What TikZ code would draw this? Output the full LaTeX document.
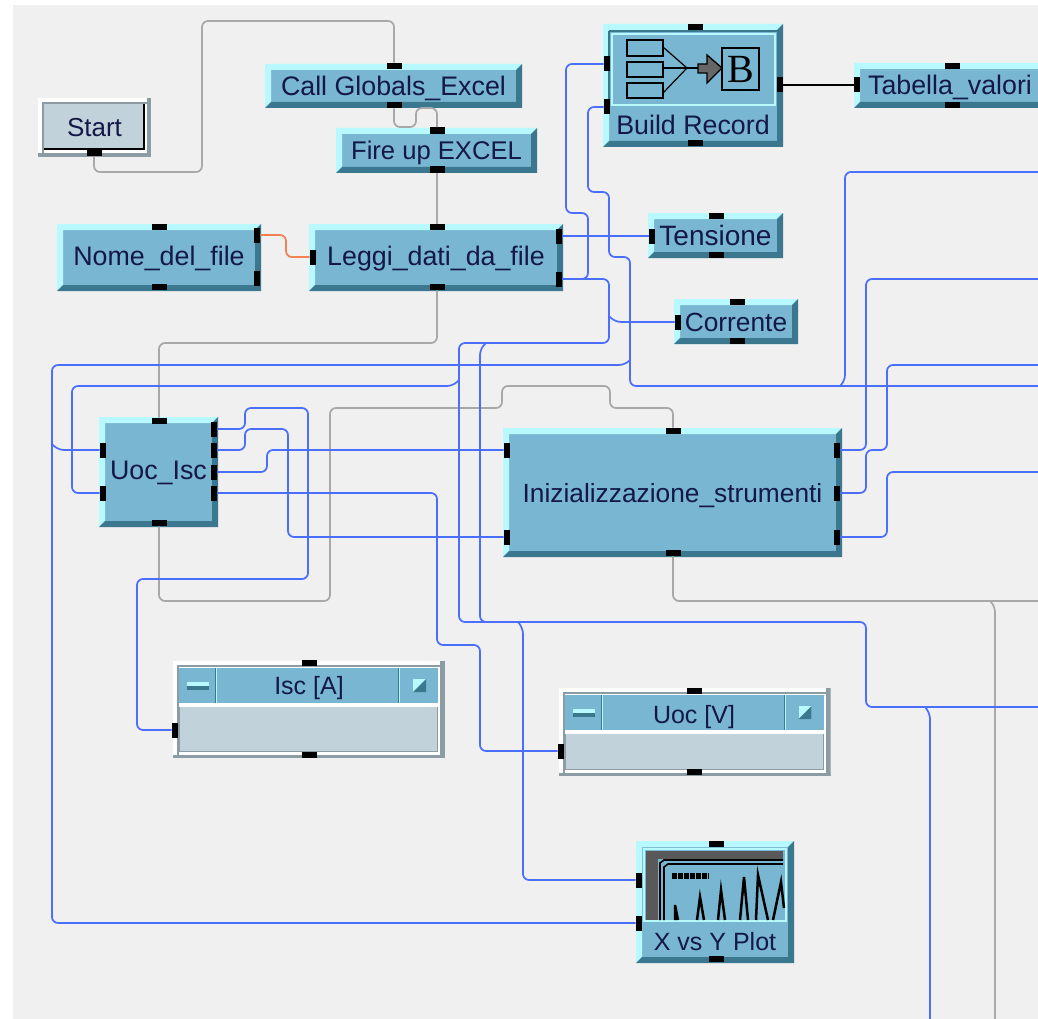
\documentclass[tikz,border=0pt]{standalone}
\usepackage{fontspec}
\setmainfont{Liberation Sans}
\newfontfamily\iconfont{Liberation Serif}
\usepackage{tikz}

\definecolor{panelgrey}{HTML}{F0F0F0}
\definecolor{devface}{HTML}{78B6D2}
\definecolor{devlite}{HTML}{B8F8FF}
\definecolor{devdark}{HTML}{3B788F}
\definecolor{devtext}{HTML}{141848}
\definecolor{bodygrey}{HTML}{C2D2DA}
\definecolor{rimgrey}{HTML}{8C9CA4}
\definecolor{wireblue}{HTML}{4A6EFF}
\definecolor{wiregrey}{HTML}{A8A8A8}
\definecolor{wireorange}{HTML}{F58050}

\begin{document}
\begin{tikzpicture}[
  x=1pt, y=-1pt,
  every node/.style={font=\fontsize{26.8}{30}\selectfont, text=devtext, inner sep=0pt},
  txt/.style={font=\fontsize{#1}{30}\selectfont},
  devlabel/.style={text height=23pt, text depth=4pt},
  lowlabel/.style={text height=22pt, text depth=7pt},
  dev/.style 2 args={devlabel, fill=devface, minimum width=#1pt, minimum height=#2pt,
    path picture={
      \fill[devlite] (path picture bounding box.north west) -- (path picture bounding box.north east)
        -- ([xshift=-6pt,yshift=-6pt]path picture bounding box.north east)
        -- ([xshift=6pt,yshift=-6pt]path picture bounding box.north west)
        -- ([xshift=6pt,yshift=6pt]path picture bounding box.south west)
        -- (path picture bounding box.south west) -- cycle;
      \fill[devdark] (path picture bounding box.south east) -- (path picture bounding box.north east)
        -- ([xshift=-6pt,yshift=-6pt]path picture bounding box.north east)
        -- ([xshift=-6pt,yshift=6pt]path picture bounding box.south east)
        -- ([xshift=6pt,yshift=6pt]path picture bounding box.south west)
        -- (path picture bounding box.south west) -- cycle;
    }},
  btn/.style 2 args={devlabel, fill=bodygrey, minimum width=#1pt, minimum height=#2pt,
    path picture={
      \fill[white] (path picture bounding box.north west) rectangle (path picture bounding box.south east);
      \fill[rimgrey] ([yshift=3.5pt]path picture bounding box.south west) rectangle (path picture bounding box.south east);
      \fill[rimgrey] ([xshift=-4pt]path picture bounding box.north east) rectangle (path picture bounding box.south east);
      \fill[rimgrey] ([xshift=4pt,yshift=-4pt]path picture bounding box.north west) rectangle ([xshift=-4pt,yshift=3.5pt]path picture bounding box.south east);
      \fill[white] ([xshift=6pt,yshift=-6pt]path picture bounding box.north west) rectangle ([xshift=-4pt,yshift=3.5pt]path picture bounding box.south east);
      \fill[bodygrey] ([xshift=6pt,yshift=-6pt]path picture bounding box.north west) rectangle ([xshift=-7pt,yshift=8pt]path picture bounding box.south east);
      \draw[black, line width=1.8pt] ([xshift=-7pt,yshift=-6pt]path picture bounding box.north east)
        -- ([xshift=-7pt,yshift=8pt]path picture bounding box.south east)
        -- ([xshift=6pt,yshift=8pt]path picture bounding box.south west);
    }},
  disp/.style={fill=bodygrey, minimum width=272pt, minimum height=#1pt,
    path picture={
      \fill[white] (path picture bounding box.north west) rectangle (path picture bounding box.south east);
      \fill[rimgrey] ([yshift=3.5pt]path picture bounding box.south west) rectangle (path picture bounding box.south east);
      \fill[rimgrey] ([xshift=-5pt]path picture bounding box.north east) rectangle (path picture bounding box.south east);
      \fill[rimgrey] ([xshift=4pt,yshift=-4pt]path picture bounding box.north west) rectangle ([xshift=-5pt,yshift=3.5pt]path picture bounding box.south east);
      \fill[white] ([xshift=6pt,yshift=-6pt]path picture bounding box.north west) rectangle ([xshift=-5pt,yshift=3.5pt]path picture bounding box.south east);
      \fill[rimgrey] ([xshift=6pt,yshift=-46pt]path picture bounding box.north west) rectangle ([xshift=-7pt,yshift=6pt]path picture bounding box.south east);
      \fill[bodygrey] ([xshift=7pt,yshift=-46pt]path picture bounding box.north west) rectangle ([xshift=-8pt,yshift=7pt]path picture bounding box.south east);
      \fill[devface] ([xshift=6pt,yshift=-7pt]path picture bounding box.north west) rectangle ([xshift=-7pt,yshift=-42pt]path picture bounding box.north east);
      \fill[devdark] ([xshift=42pt,yshift=-7pt]path picture bounding box.north west) rectangle ([xshift=43pt,yshift=-42pt]path picture bounding box.north west);
      \fill[devlite] ([xshift=43pt,yshift=-7pt]path picture bounding box.north west) rectangle ([xshift=44pt,yshift=-42pt]path picture bounding box.north west);
      \fill[devdark] ([xshift=-47pt,yshift=-7pt]path picture bounding box.north east) rectangle ([xshift=-46pt,yshift=-42pt]path picture bounding box.north east);
      \fill[devlite] ([xshift=-46pt,yshift=-7pt]path picture bounding box.north east) rectangle ([xshift=-45pt,yshift=-42pt]path picture bounding box.north east);
      % minimise and maximise buttons
      \fill[devlite] ([xshift=14pt,yshift=-21pt]path picture bounding box.north west) rectangle ([xshift=36pt,yshift=-25pt]path picture bounding box.north west);
      \fill[devdark] ([xshift=14pt,yshift=-25pt]path picture bounding box.north west) rectangle ([xshift=36pt,yshift=-29pt]path picture bounding box.north west);
      \fill[devlite] ([xshift=-32pt,yshift=-18pt]path picture bounding box.north east) rectangle ([xshift=-19pt,yshift=-31pt]path picture bounding box.north east);
      \fill[devdark] ([xshift=-19pt,yshift=-18pt]path picture bounding box.north east) -- ([xshift=-19pt,yshift=-31pt]path picture bounding box.north east) -- ([xshift=-32pt,yshift=-31pt]path picture bounding box.north east) -- cycle;
    }},
  porth/.style={fill=black, minimum width=15pt, minimum height=6.5pt},
  portv/.style={fill=black, minimum width=6.5pt, minimum height=15pt},
  icon/.style={black, line width=1.8pt},
  wb/.style={draw=wireblue, line width=1.7pt, rounded corners=6pt},
  wg/.style={draw=wiregrey, line width=1.7pt, rounded corners=6pt},
  wo/.style={draw=wireorange, line width=1.7pt, rounded corners=6pt}]

\useasboundingbox (0,0) rectangle (1038,1019);
\clip (0,0) rectangle (1038,1019);
\fill[panelgrey] (13,5) rectangle (1038,1019);

%% Objects
\node[btn={113}{59}, txt=26] (start)   at ( 94.5, 127.5) {Start};
\node[dev={257}{44}] (call)    at (393.5,  86)   {Call Globals\_Excel};
\node[dev={201}{45}, txt=25.6] (fire)  at (436.5, 150.5) {Fire up EXCEL};
\node[dev={204}{67}, lowlabel] (nome)  at (159,   257.5) {Nome\_del\_file};
\node[dev={254}{67}, lowlabel] (leggi) at (436,   257.5) {Leggi\_dati\_da\_file};
\node[dev={180}{123}] (build)  at (693,    85.5) {};
\node[dev={192}{45}] (tabella) at (950,    85.5) {Tabella\_valori};
\node[dev={135}{45}, txt=28] (tens)    at (715.5, 235.5) {Tensione};
\node[dev={124}{45}, txt=26.3] (corr)  at (736,   321.5) {Corrente};
\node[dev={119}{110}, lowlabel] (uocisc) at (158.5, 472) {Uoc\_Isc};
\node[dev={339}{129}, txt=26.3] (init) at (672.5, 492.5) {Inizializzazione\_strumenti};
\node[disp=97] (isc) at (309, 709.5) {};
\node[disp=88] (uoc) at (694.5, 732) {};
\node[dev={158}{122}] (plot)   at (715,   902)   {};

%% Labels on the objects that carry a picture or a title bar
\node[devlabel] (buildlabel) at (693, 125) {Build Record};
\node[devlabel, txt=25] (plotlabel)  at (715, 941) {X vs Y Plot};
\node[devlabel, txt=25] (isclabel)   at (309, 685) {Isc [A]};
\node[devlabel, txt=25] (uoclabel)   at (694, 713.5) {Uoc [V]};

%% Record icon
\draw[devlite, line width=1.2pt, fill=devface] (612,34) rectangle (775,105);
\draw[devdark, line width=1.2pt] (609,31) -- (778,31) (609,31) -- (609,105);
\draw[icon] (627,40) rectangle (663,56);
\draw[icon] (627,62) rectangle (663,77);
\draw[icon] (627,83) rectangle (663,98);
\draw[black, line width=1.2pt] (663,47) -- (687,68) -- (663,93);
\draw[icon] (663,68) -- (698,68);
\draw[black, line width=1.4pt, fill=black!60] (698,64) -- (707,64) -- (707,55) -- (722,68) -- (707,83) -- (707,73) -- (698,73) -- cycle;
\draw[icon] (722,48) rectangle (759,90);
\node[font=\iconfont\fontsize{40}{40}\selectfont, text=black] (recordb) at (741,69) {B};

%% Plot icon
\draw[devlite, line width=1.2pt, fill=devface] (644,849) rectangle (786,921);
\fill[black!65] (646,851) rectangle (783,859);
\fill[black!65] (646,859) rectangle (658,920);
\draw[black, line width=1.6pt] (660,920) -- (660,863) -- (664,860) -- (783,860);
\draw[black, line width=1.6pt] (664,920) -- (664,867) -- (668,864) -- (783,864);
\draw[black, line width=6pt, dash pattern=on 5pt off 1pt] (672,876) -- (709,876);
\draw[black, line width=2.5pt] (675,920) -- (675,905) -- (678,920);
\draw[black, line width=2.5pt] (697,920) -- (700,897) -- (704,920);
\draw[black, line width=2.5pt] (718,920) -- (721,890) -- (725,920);
\draw[black, line width=2.5pt] (740,920) -- (744,877) -- (748,920);
\draw[black, line width=2.5pt] (756,920) -- (758,875) -- (768,920);
\draw[black, line width=2.5pt] (773,920) -- (781,882) -- (784,908);

%% Terminals
\node[porth] (start-b) at (94,153) {};
\node[porth] (call-t)  at (394,66) {};
\node[porth] (call-b)  at (394,105) {};
\node[porth] (fire-t)  at (437,130.5) {};
\node[porth] (fire-b)  at (437,169.5) {};
\node[porth] (nome-t)  at (159,227) {};
\node[porth] (nome-b)  at (159,287) {};
\node[portv] (nome-r1) at (257,235) {};
\node[portv] (nome-r2) at (257,278) {};
\node[porth] (leggi-t) at (437,227) {};
\node[porth] (leggi-b) at (437,287) {};
\node[portv] (leggi-l) at (313,257) {};
\node[portv] (leggi-r1) at (559,236) {};
\node[portv] (leggi-r2) at (559,279) {};
\node[porth] (build-t) at (695,27) {};
\node[porth] (build-b) at (695,143) {};
\node[portv] (build-l1) at (607,64) {};
\node[portv] (build-l2) at (607,107) {};
\node[portv] (build-r) at (780,85) {};
\node[porth] (tabella-t) at (952,66) {};
\node[porth] (tabella-b) at (952,105) {};
\node[portv] (tabella-l) at (857,85) {};
\node[porth] (tens-t) at (716,216) {};
\node[porth] (tens-b) at (716,255) {};
\node[portv] (tens-l) at (652,236) {};
\node[porth] (corr-t) at (737,302) {};
\node[porth] (corr-b) at (737,341) {};
\node[portv] (corr-l) at (678,322) {};
\node[porth] (uocisc-t) at (159,421) {};
\node[porth] (uocisc-b) at (159,523) {};
\node[portv] (uocisc-l1) at (103,450) {};
\node[portv] (uocisc-l2) at (103,493) {};
\node[portv] (uocisc-r1) at (214,429) {};
\node[portv] (uocisc-r2) at (214,450) {};
\node[portv] (uocisc-r3) at (214,472) {};
\node[portv] (uocisc-r4) at (214,493) {};
\node[porth] (init-t) at (673,431) {};
\node[porth] (init-b) at (673,553) {};
\node[portv] (init-l1) at (507,450) {};
\node[portv] (init-l2) at (507,537) {};
\node[portv] (init-r1) at (837,450) {};
\node[portv] (init-r2) at (837,493) {};
\node[portv] (init-r3) at (837,537) {};
\node[porth] (isc-t) at (309,663) {};
\node[porth] (isc-b) at (309,755) {};
\node[portv] (isc-l) at (175,730) {};
\node[porth] (uoc-t) at (694,691) {};
\node[porth] (uoc-b) at (694,772) {};
\node[portv] (uoc-l) at (561,751) {};
\node[porth] (plot-t) at (716,844) {};
\node[porth] (plot-b) at (716,959) {};
\node[portv] (plot-l1) at (639,880) {};
\node[portv] (plot-l2) at (639,923) {};

%% Branch points and the wires that leave the picture
\coordinate (jtens)  at (609,236);
\coordinate (jleft)  at (630,360);
\coordinate (jdown)  at (52,444);
\coordinate (jtop)   at (840,386);
\coordinate (jtwo)   at (459,380);
\coordinate (jcorr)  at (609,316);
\coordinate (jmid)   at (486,343);
\coordinate (jplot)  at (518,622);
\coordinate (jright) at (925,707);
\coordinate (jseq)   at (990,601);
\coordinate (edgea)  at (1038,172);
\coordinate (edgeb)  at (1038,279);
\coordinate (edgec)  at (1038,365);
\coordinate (edged)  at (1038,386);
\coordinate (edgee)  at (1038,472);
\coordinate (edgef)  at (1038,601);
\coordinate (edgeg)  at (1038,707);
\coordinate (edgeh)  at (930,1019);
\coordinate (edgei)  at (995,1019);

%% Sequence wires
\draw[wg] (start-b) -- (94,172) -- (202,172) -- (202,21) -- (394,21) -- (call-t);
\draw[wg] (call-b) -- (394,127) -- (416,127) -- (416,108) -- (437,108) -- (fire-t);
\draw[wg] (fire-b) -- (leggi-t);
\draw[wg] (leggi-b) -- (437,343) -- (159,343) -- (uocisc-t);
\draw[wg] (uocisc-b) -- (159,601) -- (330,601) -- (330,408) -- (502,408) -- (502,386) -- (610,386) -- (610,408) -- (673,408) -- (init-t);
\draw[wg] (init-b) -- (673,601) -- (edgef);
\draw[wg] (jseq) -- (995,606) -- (edgei);

%% Data wires
\draw[wo] (nome-r1) -- (286,235) -- (286,257) -- (leggi-l);
\draw[black, line width=1.7pt] (build-r) -- (tabella-l);
\draw[wb] (leggi-r1) -- (tens-l);
\draw[wb] (jtens) -- (609,192) -- (588,192) -- (588,107) -- (build-l2);
\draw[wb] (jtens) -- (609,257) -- (630,257) -- (630,386) -- (edged);
\draw[wb] (jleft) -- (625,365) -- (52,365) -- (52,923) -- (plot-l2);
\draw[wb] (jdown) -- (58,450) -- (uocisc-l1);
\draw[wb] (jtop) -- (845,381) -- (845,172) -- (edgea);
\draw[wb] (leggi-r2) -- (588,279) -- (588,213) -- (566,213) -- (566,64) -- (build-l1);
\draw[wb] (leggi-r2) -- (609,279) -- (609,343) -- (459,343) -- (459,622) -- (866,622) -- (866,707) -- (edgeg);
\draw[wb] (jmid) -- (480,349) -- (480,622) -- (486,622);
\draw[wb] (jcorr) -- (615,322) -- (corr-l);
\draw[wb] (jplot) -- (523,628) -- (523,880) -- (plot-l1);
\draw[wb] (jright) -- (930,713) -- (edgeh);
\draw[wb] (jtwo) -- (453,386) -- (72,386) -- (72,493) -- (uocisc-l2);
\draw[wb] (uocisc-r1) -- (245,429) -- (245,408) -- (308,408) -- (308,579) -- (137,579) -- (137,730) -- (isc-l);
\draw[wb] (uocisc-r2) -- (245,450) -- (245,429) -- (288,429) -- (288,537) -- (init-l2);
\draw[wb] (uocisc-r3) -- (267,472) -- (267,450) -- (init-l1);
\draw[wb] (uocisc-r4) -- (437,493) -- (437,645) -- (480,645) -- (480,751) -- (uoc-l);
\draw[wb] (init-r1) -- (866,450) -- (866,279) -- (edgeb);
\draw[wb] (init-r2) -- (866,493) -- (866,450) -- (887,450) -- (887,365) -- (edgec);
\draw[wb] (init-r3) -- (887,537) -- (887,472) -- (edgee);
\end{tikzpicture}
\end{document}
